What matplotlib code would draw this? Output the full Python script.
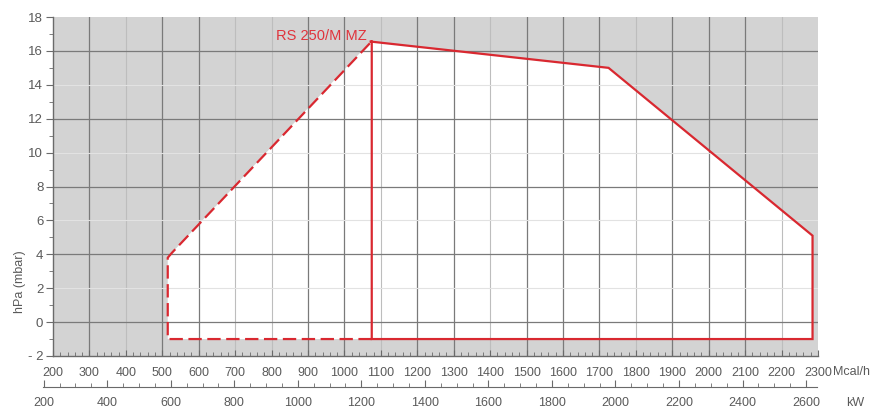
import matplotlib
matplotlib.use('Agg')
import matplotlib.pyplot as plt
from matplotlib.ticker import MultipleLocator, FixedLocator

# working field of the burner (Mcal/h, hPa)
dashed_x = [1075, 515, 515, 527, 1072]
dashed_y = [-1, -1, 3.8, 4.1, 16.5]
solid_x = [1072, 1725, 2285, 2285, 1075, 1075]
solid_y = [16.55, 15.0, 5.1, -1, -1, 16.55]
field_x = [515, 515, 527, 1072, 1725, 2285, 2285]
field_y = [-1, 3.8, 4.1, 16.55, 15.0, 5.1, -1]

model_label = 'RS 250/M MZ'
mcal_ticks = list(range(200, 2301, 100))
kw_ticks = list(range(200, 2601, 200))
y_ticks = list(range(-2, 19, 2))
KW_TO_MCAL = 0.872

RED = '#d92830'
TXT = '#5a5a5a'

plt.rcParams['font.family'] = ['Liberation Sans', 'DejaVu Sans']

W, H = 877, 409
fig = plt.figure(figsize=(W / 100, H / 100), dpi=100)
ax = fig.add_axes([53 / W, 1 - 356 / H, 765 / W, 339 / H])
ax.set_facecolor('#d3d3d3')
ax.set_xlim(200, 2300)
ax.set_ylim(-2, 18)

# grid (scan shows darker and lighter lines)
dark_v = [300, 500, 600, 900, 1000, 1200, 1300, 1500, 1600, 1700, 1900, 2000, 2100]
light_v = [400, 700, 800, 1100, 1400, 1800, 2200]
for v in dark_v:
    ax.axvline(v, color='#7a7a7a', lw=0.9, zorder=0.5)
for v in light_v:
    ax.axvline(v, color='#bdbdbd', lw=0.8, zorder=0.5)
for h in [0, 4, 8, 12, 16]:
    ax.axhline(h, color='#7a7a7a', lw=0.9, zorder=0.5)
for h in [2, 6, 10, 14]:
    ax.axhline(h, color='#e2e2e2', lw=0.8, zorder=0.5)

ax.fill(field_x, field_y, color='white', zorder=0.3, lw=0)
ax.plot(solid_x, solid_y, color=RED, lw=1.6, zorder=3, solid_joinstyle='miter')
ax.plot(dashed_x, dashed_y, color=RED, lw=1.6, zorder=3, linestyle=(0, (6, 2.5)))
ax.text(1062, 16.9, model_label, color='#e0343c', fontsize=10.5,
        ha='right', va='center')

for s in ['top', 'right']:
    ax.spines[s].set_visible(False)
for s in ['left', 'bottom']:
    ax.spines[s].set_color('#6a6a6a')
    ax.spines[s].set_linewidth(1.0)

ax.xaxis.set_major_locator(FixedLocator(mcal_ticks))
ax.xaxis.set_minor_locator(MultipleLocator(20))
ax.tick_params(axis='x', which='both', direction='in', colors='#6a6a6a',
               labelcolor=TXT, labelsize=9, pad=8)
ax.tick_params(axis='x', which='major', length=4)
ax.tick_params(axis='x', which='minor', length=3)

ax.yaxis.set_major_locator(FixedLocator(y_ticks))
ax.yaxis.set_minor_locator(MultipleLocator(1))
ax.set_yticklabels(['- 2' if t < 0 else str(t) for t in y_ticks])
ax.tick_params(axis='y', which='both', direction='out', colors='#6a6a6a',
               labelcolor=TXT, labelsize=9.5, pad=2)
ax.tick_params(axis='y', which='major', length=5)
ax.tick_params(axis='y', which='minor', length=3)

fig.text(833 / W, 1 - 372 / H, 'Mcal/h', color=TXT, fontsize=9,
         ha='left', va='center')

# kW scale underneath, a bit wider than the plot on the left
mcal_per_px = 2100 / 765
kw_left = (200 + (43 - 53) * mcal_per_px) / KW_TO_MCAL
kw_right = (200 + (817 - 53) * mcal_per_px) / KW_TO_MCAL
kx = fig.add_axes([43 / W, 1 - 387 / H, 774 / W, 0.001])
kx.set_xlim(kw_left, kw_right)
kx.set_yticks([])
kx.patch.set_visible(False)
for s in ['top', 'right', 'left']:
    kx.spines[s].set_visible(False)
kx.spines['bottom'].set_color('#6a6a6a')
kx.xaxis.set_major_locator(FixedLocator(kw_ticks))
kx.xaxis.set_minor_locator(MultipleLocator(50))
kx.tick_params(axis='x', which='both', direction='in', colors='#6a6a6a',
               labelcolor=TXT, labelsize=9, pad=7)
kx.tick_params(axis='x', which='major', length=5)
kx.tick_params(axis='x', which='minor', length=3)

fig.text(855 / W, 1 - 403 / H, 'kW', color=TXT, fontsize=9,
         ha='center', va='center')
fig.text(20 / W, 1 - 282 / H, 'hPa (mbar)', color=TXT, fontsize=9,
         rotation=90, ha='center', va='center')

fig.savefig('out.png', dpi=100)
